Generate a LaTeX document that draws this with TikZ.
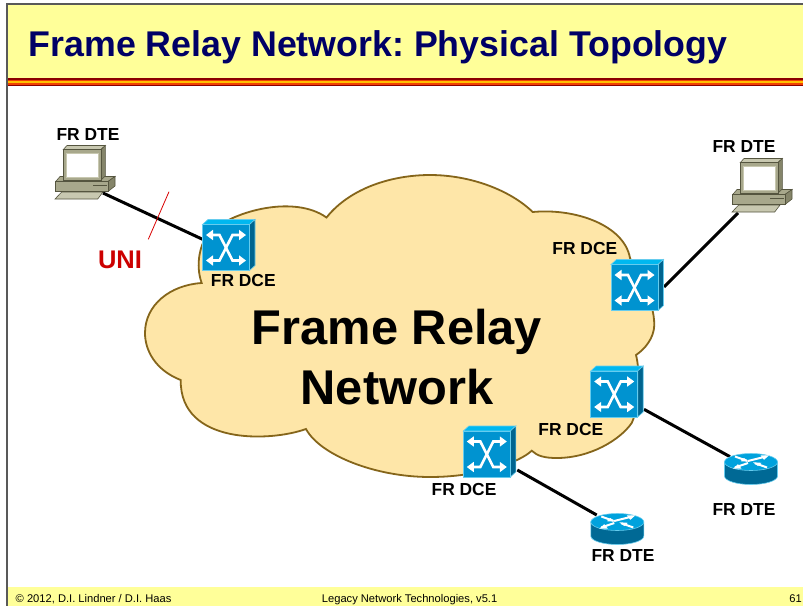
\documentclass[tikz,border=0pt]{standalone}
\usepackage{fontspec}
\setmainfont{Liberation Sans}
\frenchspacing
\definecolor{hdr}{HTML}{FFFF99}
\definecolor{navy}{HTML}{000066}
\definecolor{cloudf}{HTML}{FEE6A8}
\definecolor{cloudd}{HTML}{85651A}
\definecolor{swf}{HTML}{0093D0}
\definecolor{swt}{HTML}{00B8F0}
\definecolor{sws}{HTML}{00648F}
\definecolor{swe}{HTML}{66CCEE}
\definecolor{pca}{HTML}{C8C8B0}
\definecolor{pcb}{HTML}{A8A88C}
\definecolor{pcc}{HTML}{85856A}
\definecolor{pcd}{HTML}{55553F}
\definecolor{stripea}{HTML}{8B0000}
\definecolor{stripeb}{HTML}{F04000}
\definecolor{stripec}{HTML}{FFC000}
\tikzset{
  lbl/.style={font=\fontsize{17.4}{20}\bfseries\selectfont,text=black,inner sep=0pt,anchor=base},
  big/.style={font=\fontsize{48.8}{54}\bfseries\selectfont,text=black,inner sep=0pt,anchor=base},
  foot/.style={font=\fontsize{11.15}{13}\selectfont,text=black,inner sep=0pt,anchor=base west},
  link/.style={line width=3pt,black},
  swarrow/.pic={
    \draw[white,line width=2.6pt,line join=miter] (9,10.5)--(17,10.5)--(30,36)--(38,36);
    \fill[white] (3.5,10.5)--(10.5,5.3)--(10.5,15.7)--cycle;
    \fill[white] (43.5,36)--(36.5,30.8)--(36.5,41.2)--cycle;
  },
  swflip/.pic={
    \draw[white,line width=2.6pt,line join=miter] (9,36)--(17,36)--(30,10.5)--(38,10.5);
    \fill[white] (3.5,36)--(10.5,30.8)--(10.5,41.2)--cycle;
    \fill[white] (43.5,10.5)--(36.5,5.3)--(36.5,15.7)--cycle;
  },
  switchicon/.pic={
    \fill[swt,draw=swe,line width=.6pt] (0,0)--(5.5,-5)--(52.5,-5)--(47,0)--cycle;
    \fill[sws,draw=swe,line width=.6pt] (47,0)--(52.5,-5)--(52.5,41)--(47,46)--cycle;
    \fill[swf,draw=swe,line width=.9pt] (0,0) rectangle (47,46);
    \pic {swarrow};
    \pic {swflip};
  },
  routericon/.pic={
    \fill[sws!90!swf,draw=swe,line width=.6pt] (-26.5,0)--(-26.5,14) arc[x radius=26.5,y radius=8.5,start angle=180,end angle=0]--(26.5,0)--cycle;
    \fill[swf!60!swt,draw=swe,line width=.6pt] (0,0) ellipse[x radius=26.5,y radius=8.5];
    \foreach \a/\b/\c/\d in {-3/-1/15/-5.5,-3/1/-16/5.5,-16/-5.5/-4/-1.2,16/5.5/4/1.2}{
      \draw[white,line width=2pt] (\a,\b)--(\c,\d);
    }
    \fill[white] (18,-6.6)--(9.5,-6.6)--(13,-2.2)--cycle;
    \fill[white] (-18,6.6)--(-9.5,6.6)--(-13,2.2)--cycle;
    \fill[white] (-2,-.4)--(-10.5,-.8)--(-7,-4)--cycle;
    \fill[white] (2,.4)--(10.5,.8)--(7,4)--cycle;
  },
  pcicon/.pic={
    % base
    \fill[pcb,draw=pcd,line width=.6pt] (55.7,181.5)--(60,176.5)--(115,176.5)--(108,181.5)--cycle;
    \fill[pcc,draw=pcd,line width=.6pt] (108,181.5)--(115,176.5)--(115,186)--(108,191.5)--cycle;
    \fill[pcb,draw=pcd,line width=.6pt] (55.7,181.5) rectangle (108,191.5);
    \draw[pcd,line width=1.1pt] (93,185.7)--(107,185.7);
    % keyboard
    \fill[pca,draw=pcd,line width=.6pt] (55,199)--(97.7,199)--(103,192)--(61.7,192)--cycle;
    % monitor
    \fill[pca,draw=pcd,line width=.6pt] (63.3,149.5)--(67,145.5)--(105.3,145.5)--(101,149.5)--cycle;
    \fill[pcc,draw=pcd,line width=.6pt] (101,149.5)--(105.3,145.5)--(105.3,176)--(101,180)--cycle;
    \fill[pcb,draw=pcd,line width=.6pt] (63.3,149.5) rectangle (101,180);
    \fill[pca] (66,152.5) rectangle (98.8,177.5);
    \fill[white] (67,154) rectangle (98,176.5);
  },
}
\begin{document}
\begin{tikzpicture}[x=1pt,y=-1pt]
\useasboundingbox (0,0) rectangle (803,606);
\fill[white] (0,0) rectangle (803,606);
% slide frame
\fill[black!65] (6,3.3) rectangle (803,5);
\fill[black!65] (6,3.3) rectangle (8,606);
\fill[hdr] (8,5) rectangle (803,78);
\fill[hdr] (8,587) rectangle (803,606);
\fill[stripea] (8,78) rectangle (803,86);
\fill[stripeb] (8,79.5) rectangle (803,84.5);
\fill[stripec] (8,80.7) rectangle (803,83.3);
\node[inner sep=0pt,anchor=base west,text=navy,font=\fontsize{35.75}{40}\bfseries\selectfont] (title) at (28.5,56) {Frame Relay Network: Physical Topology};
% cloud
\fill[cloudf,draw=cloudd,line width=1.8pt,line join=miter] (326.5,217.5)
  .. controls (350,188) and (392,175) .. (430,175)
  .. controls (470,175) and (510,190) .. (532.7,212)
  .. controls (575,208) and (624,225) .. (630,258)
  .. controls (640,280) and (654,300) .. (654.3,325)
  .. controls (654,338) and (645,349) .. (636,355)
  .. controls (640,370) and (640,405) .. (631.7,423)
  .. controls (620,440) and (590,458) .. (556.7,458)
  .. controls (545,458) and (537,456) .. (531.7,450.7)
  .. controls (520,462) and (480,477) .. (430,477)
  .. controls (375,477) and (320,455) .. (306,429)
  .. controls (270,442) and (180,445) .. (180.7,380)
  .. controls (155,370) and (145,350) .. (145,333)
  .. controls (145,305) and (170,285) .. (201.7,283)
  .. controls (195,265) and (200,242) .. (210,232)
  .. controls (235,210) and (295,195) .. (326.5,217.5)
  -- cycle;
% connector end points
\coordinate (pcA) at (103,193);
\coordinate (swA) at (203,239.5);
\coordinate (swB) at (664,287);
\coordinate (pcB) at (738,213);
\coordinate (swC) at (644,409.3);
\coordinate (rtC) at (730,456.7);
\coordinate (swD) at (517.3,470);
\coordinate (rtD) at (596.7,515);
\coordinate (uniA) at (169,191.7);
\coordinate (uniB) at (148.3,239.3);
\draw[link] (pcA)--(swA);
\draw[link] (swB)--(pcB);
\draw[link] (swC)--(rtC);
\draw[link] (swD)--(rtD);
\draw[red!85!black,line width=.8pt] (uniA)--(uniB);
% icons
\pic at (0,0) {pcicon};
\pic at (677,13) {pcicon};
\pic at (202.5,224.5) {switchicon};
\pic at (611,264.5) {switchicon};
\pic at (590.7,371) {switchicon};
\pic at (463.3,431) {switchicon};
\pic at (751,462) {routericon};
\pic at (617.3,522) {routericon};
% labels
\node[lbl] (l1) at (88,140) {FR DTE};
\node[lbl] (l2) at (744,152.3) {FR DTE};
\node[lbl] (l3) at (243.3,286.7) {FR DCE};
\node[lbl] (l4) at (584.8,254) {FR DCE};
\node[lbl] (l5) at (570.8,435) {FR DCE};
\node[lbl] (l6) at (464,495) {FR DCE};
\node[lbl] (l7) at (744,515) {FR DTE};
\node[lbl] (l8) at (623,561.7) {FR DTE};
\node[inner sep=0pt,anchor=base,text=red!80!black,font=\fontsize{25.5}{28}\bfseries\selectfont] (uni) at (120,268.3) {UNI};
\node[big] (c1) at (397,344) {Frame Relay};
\node[big] (c2) at (397,404) {Network};
% footer
\node[foot] (f1) at (15.5,602) {© 2012, D.I. Lindner / D.I. Haas};
\node[foot] (f2) at (321.7,602) {Legacy Network Technologies, v5.1};
\node[foot,anchor=base east] (f3) at (802,602) {61};
\end{tikzpicture}
\end{document}
